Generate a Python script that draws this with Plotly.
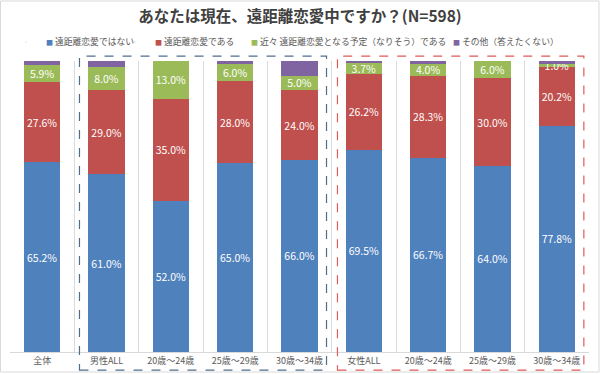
import plotly.graph_objects as go

categories = ["全体", "男性ALL", "20歳～24歳", "25歳～29歳", "30歳～34歳",
              "女性ALL", "20歳～24歳", "25歳～29歳", "30歳～34歳"]
series_names = ["遠距離恋愛ではない", "遠距離恋愛である",
                "近々 遠距離恋愛となる予定（なりそう）である", "その他（答えたくない）"]
not_ldr = [65.2, 61.0, 52.0, 65.0, 66.0, 69.5, 66.7, 64.0, 77.8]
ldr = [27.6, 29.0, 35.0, 28.0, 24.0, 26.2, 28.3, 30.0, 20.2]
soon = [5.9, 8.0, 13.0, 6.0, 5.0, 3.7, 4.0, 6.0, 1.0]
other = [1.3, 2.0, 0.0, 1.0, 5.0, 0.6, 1.0, 0.0, 1.0]
title_text = "あなたは現在、遠距離恋愛中ですか？(N=598)"

colors = ["#4F81BD", "#C0504D", "#9BBB59", "#8064A2"]
xs = list(range(len(categories)))
FONT = "Noto Sans CJK JP"
legend_ids = ["legend", "legend2", "legend3", "legend4"]
legend_x = [-0.007, 0.1813, 0.3472, 0.6960]

fig = go.Figure()
for name, vals, col, lab in zip(series_names, [not_ldr, ldr, soon, other], colors,
                                [True, True, True, False]):
    fig.add_trace(go.Bar(
        x=xs, y=vals, name=name, marker=dict(color=col, line=dict(width=0)),
        width=0.56, showlegend=False,
        text=[f"{v:.1f}%" for v in vals] if lab else None,
        textposition="inside" if lab else "none",
        insidetextanchor="middle", textangle=0,
        textfont=dict(color="white", size=10.5, family=FONT),
        hoverinfo="skip",
    ))

# legend entries (symbol drawn as coloured text square, compact like the original)
for name, col, lid in zip(series_names, colors, legend_ids):
    fig.add_trace(go.Scatter(
        x=[None], y=[None], mode="markers", marker=dict(size=1, opacity=0),
        name=f"<span style='color:{col};font-size:7px'>■</span> {name}",
        legend=lid, showlegend=True, hoverinfo="skip",
    ))

legend_common = dict(orientation="h", xanchor="left", yref="container", y=1 - 42/374,
                     yanchor="middle", font=dict(size=8.8, color="#595959", family=FONT),
                     bgcolor="rgba(0,0,0,0)", borderwidth=0, itemclick=False)

fig.update_layout(
    barmode="stack",
    width=600, height=374,
    margin=dict(l=10, r=11, t=61, b=22, autoexpand=False),
    paper_bgcolor="white", plot_bgcolor="white",
    font=dict(family=FONT, color="#595959"),
    title=dict(text="<b>" + title_text + "</b>", x=0.5, xanchor="center",
               yref="container", y=1 - 17/374, yanchor="middle",
               font=dict(size=15.5, color="#404040", family=FONT)),
    uniformtext=dict(minsize=10.5, mode="show"),
    showlegend=True,
)
for lid, lx in zip(legend_ids, legend_x):
    fig.update_layout({lid: dict(x=lx, **legend_common)})

fig.update_xaxes(
    range=[-0.5, 8.5], tickvals=xs, ticktext=categories, showgrid=False,
    tickfont=dict(size=9, color="#595959", family=FONT),
    showline=True, linecolor="#D9D9D9", linewidth=1, ticks="",
    minor=dict(tickvals=[i - 0.5 for i in range(10)], showgrid=True,
               gridcolor="#D9D9D9", gridwidth=1),
    zeroline=False, fixedrange=True, automargin=False,
)
fig.update_yaxes(range=[0, 100], visible=False, showgrid=False, fixedrange=True)

# dashed group boxes
fig.add_shape(type="rect", xref="x", yref="paper", x0=0.58, x1=4.42, y0=-0.062, y1=1.017,
              line=dict(color="#4F6E8A", width=1.2, dash="dash"), fillcolor="rgba(0,0,0,0)")
fig.add_shape(type="rect", xref="x", yref="paper", x0=4.59, x1=8.42, y0=-0.062, y1=1.017,
              line=dict(color="#E05A5A", width=1.2, dash="dash"), fillcolor="rgba(0,0,0,0)")
# outer border
fig.add_shape(type="rect", xref="paper", yref="paper",
              x0=-9.5/579, x1=1 + 10/579, y0=-20/291, y1=1 + 60/291,
              line=dict(color="#D9D9D9", width=1), fillcolor="rgba(0,0,0,0)")

fig.write_html("out.html", config={"displayModeBar": False},
               post_script="document.body.style.margin='0';")
